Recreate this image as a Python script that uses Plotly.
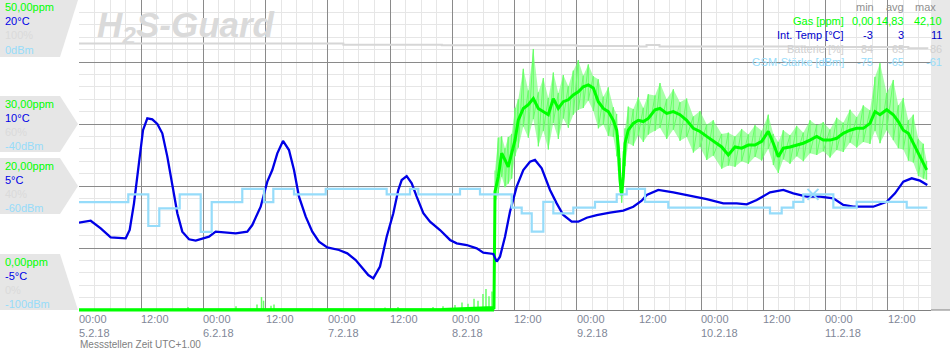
import plotly.graph_objects as go

# ---------------- data (hours since 5.2.18 00:00) ----------------
temp_h = [0, 2.26, 4.19, 6.12, 9.01, 9.78, 10.61, 11.58, 12.35, 13.18, 14.14, 15.11, 16.07, 17.04, 18.0,
          18.97, 19.93, 21.22, 22.51, 23.79, 25.08, 26.37, 28.3, 30.23, 32.47, 33.43, 35.05, 36.33, 37.29,
          38.26, 39.36, 40.51, 41.48, 42.44, 43.74, 45.01, 46.3, 47.9, 50.16, 51.76, 53.38, 54.66, 55.81,
          56.78, 58.07, 59.36, 60.64, 61.6, 62.26, 63.22, 64.19, 65.15, 66.43, 67.72, 69.65, 71.58, 72.87,
          74.8, 76.73, 78.0, 79.93, 80.59, 81.22, 82.19, 83.15, 84.44, 85.72, 87.01, 87.97, 89.27, 90.87,
          92.16, 93.43, 95.05, 96.33, 97.95, 99.88, 102.44, 105.01, 106.94, 108.56, 109.53, 111.76, 114.66,
          117.88, 121.1, 124.3, 126.89, 128.82, 130.75, 133.32, 135.88, 137.81, 140.4, 142.96, 145.53,
          147.45, 149.38, 153.24, 155.83, 157.43, 159.03, 160.65, 162.25, 163.66]
temp_c = [2.04, 2.2, 1.59, 0.86, 0.78, 1.45, 3.6, 6.83, 9.5, 10.46, 10.38, 10.0, 9.25, 7.37, 4.95,
          2.8, 1.32, 0.7, 0.59, 0.78, 0.91, 1.32, 1.24, 1.18, 1.32, 1.85, 3.33, 5.35, 6.29,
          7.63, 8.63, 7.9, 6.29, 4.14, 2.53, 1.32, 0.51, 0.05, -0.16, -0.43, -0.97, -1.64, -2.18,
          -2.45, -1.5, 0.91, 2.8, 4.68, 5.48, 5.8, 5.22, 4.14, 2.8, 2.12, 1.45, 0.65, 0.38,
          0.24, -0.03, -0.38, -0.48, -1.1, -0.7, 0.91, 2.93, 4.95, 6.29, 6.96, 7.1, 6.43, 4.68,
          3.6, 2.66, 2.12, 2.12, 2.44, 2.66, 2.85, 3.01, 3.33, 3.81, 4.27, 4.68, 4.49,
          4.22, 3.95, 3.6, 3.6, 3.52, 3.87, 4.49, 4.68, 4.41, 4.14, 4.14, 4.0,
          3.47, 3.33, 3.33, 3.73, 4.41, 5.35, 5.62, 5.43, 5.08]

gsm_h = [0, 9.51, 13.37, 15.49, 19.43, 23.48, 25.6, 31.5, 35.69, 37.49, 41.48, 47.6, 59.36, 63.86,
         65.46, 73.51, 77.36, 83.48, 85.41, 87.34, 89.58, 91.51, 95.36, 99.55, 103.74, 105.67, 109.2,
         113.69, 133.31, 135.57, 137.81, 139.74, 145.53, 150.04, 159.69, 163.66]
gsm_dbm = [-65.2, -62.7, -72.9, -67.2, -62.7, -74.8, -65.2, -60.9, -65.2, -60.9, -62.7, -60.9, -62.7, -60.9,
           -62.7, -60.9, -62.7, -67.0, -68.8, -74.7, -65.1, -68.8, -67.0, -65.1, -62.7, -60.9, -65.1,
           -67.0, -68.8, -67.0, -65.1, -62.7, -67.0, -65.1, -67.0, -67.0]
gsm_gap_h = [141.6]
gsm_gap_dbm = [-62.7]

batt_h = [0, 51.0, 70.0, 96.0, 108.0, 109.5, 112.0, 140.0, 160.0, 163.66]
batt_pct = [86.0, 85.6, 85.4, 85.2, 85.0, 85.5, 85.0, 84.8, 84.4, 84.2]

gas_h = [0.0, 70.0, 80.06,
         80.26, 80.89, 81.55, 82.19, 82.82, 83.48, 84.12, 84.75, 85.72, 86.68, 87.65, 88.61, 89.58, 90.54,
         91.51, 92.47, 93.43, 94.40, 95.36, 96.33, 97.29, 98.26, 99.22, 100.19, 101.15, 102.12, 103.08,
         103.74, 104.05, 104.37, 104.70, 105.01, 105.34, 105.97, 106.94, 107.90, 108.87, 109.83, 111.13,
         112.09, 113.38, 114.66, 115.95, 117.24, 118.52, 119.81, 121.10, 122.37, 123.99, 125.27, 126.56,
         127.85, 129.13, 130.42, 131.71, 132.98, 133.95, 134.91, 135.88, 137.17, 138.46, 139.74, 141.03,
         142.32, 143.59, 144.89, 146.18, 147.45, 148.75, 150.04, 151.31, 152.60, 153.57, 154.53, 155.83,
         157.10, 158.07, 159.03, 160.0, 160.96, 161.93, 162.89, 163.54]
gas_mean = [0.0, 0.1, 0.4,
            19.1, 21.5, 25.3, 24.2, 23.1, 25.3, 27.4, 30.6, 32.5, 33.1, 34.1, 32.5, 32.0, 31.5,
            34.1, 32.5, 33.6, 33.9, 34.7, 35.2, 36.0, 36.3, 35.8, 33.6, 32.5, 32.0, 30.6,
            29.0, 26.3, 21.0, 18.5, 21.5, 26.9, 29.0, 30.1, 30.6, 30.4, 30.9, 32.3,
            32.5, 31.7, 32.0, 31.5, 30.6, 29.3, 28.8, 28.0, 27.2, 26.3, 25.0, 26.3,
            26.1, 26.6, 26.6, 27.2, 28.8, 26.9, 24.7, 26.1, 26.3, 26.6, 26.9, 27.4,
            28.0, 27.4, 27.4, 27.7, 28.5, 29.0, 29.3, 29.3, 30.1, 32.0, 31.5, 32.3,
            31.5, 30.4, 29.0, 28.5, 26.9, 25.3, 23.9, 22.6]
gas_hi = [22.5, 27.8, 28.0, 26.1, 27.9, 28.4, 32.6, 34.0, 38.9, 35.4, 42.1, 35.1, 37.4, 34.2,
          38.3, 35.0, 37.9, 36.1, 38.6, 40.3, 37.8, 39.6, 37.7, 37.2, 34.4, 35.9, 32.7,
          31.6, 28.2, 24.5, 20.8, 25.6, 29.3, 32.8, 32.4, 34.3, 32.6, 34.8, 34.6,
          36.6, 34.0, 35.6, 33.5, 34.1, 31.2, 32.1, 29.9, 30.6, 28.4, 28.6, 28.0,
          29.2, 28.3, 29.8, 28.9, 31.5, 28.4, 27.1, 29.0, 28.2, 29.7, 28.6, 30.6,
          29.8, 30.3, 29.1, 31.0, 30.2, 32.3, 31.1, 33.0, 32.2, 37.6, 39.8, 35.0,
          37.1, 33.0, 34.2, 30.6, 31.5, 27.6, 26.8, 24.0]
gas_lo = [17.0, 18.8, 21.5, 19.8, 20.4, 21.2, 24.8, 26.2, 29.6, 27.8, 30.8, 26.4, 28.9, 25.9,
          30.2, 27.6, 30.9, 29.4, 31.5, 32.3, 32.6, 33.8, 32.1, 29.3, 29.9, 28.1, 27.9,
          24.8, 22.5, 19.0, 17.3, 19.7, 23.2, 26.9, 26.5, 28.2, 27.1, 28.3, 28.9,
          29.4, 27.6, 29.1, 27.3, 27.9, 25.4, 26.3, 24.2, 24.9, 22.8, 23.3, 23.1,
          24.0, 23.6, 24.7, 24.1, 26.0, 23.4, 22.1, 24.3, 23.6, 24.8, 24.0, 25.3,
          25.0, 25.6, 24.6, 25.8, 25.5, 27.0, 26.2, 27.1, 26.8, 28.9, 26.9, 29.0,
          27.4, 26.1, 25.9, 24.1, 23.8, 21.6, 21.2, 21.0]
spike_h = [21.03, 30.29, 34.34, 35.21, 35.6, 37.04, 37.62, 59.04, 61.54, 68.3, 70.23, 72.54, 73.89,
           75.05, 76.21, 76.98, 77.94, 78.52, 79.1, 79.68, 80.06]
spike_ppm = [0.5, 0.6, 0.9, 2.1, 1.5, 0.7, 0.9, 0.4, 0.5, 0.5, 0.6, 0.8, 1.2,
             1.0, 1.8, 1.5, 2.6, 3.4, 2.2, 3.0, 3.8]

tick_hours = [0, 12, 24, 36, 48, 60, 72, 84, 96, 108, 120, 132, 144, 156]
tick_times = ["00:00", "12:00"] * 7
tick_dates = ["5.2.18", "", "6.2.18", "", "7.2.18", "", "8.2.18", "", "9.2.18", "", "10.2.18", "",
              "11.2.18", ""]

scale_gas = ["50,00ppm", "30,00ppm", "20,00ppm", "0,00ppm"]
scale_temp = ["20°C", "10°C", "5°C", "-5°C"]
scale_batt = ["100%", "60%", "40%", "0%"]
scale_gsm = ["0dBm", "-40dBm", "-60dBm", "-100dBm"]

legend_names = ["Gas [ppm]", "Int. Temp [°C]", "Batterie [%]", "GSM-Stärke [dBm]"]
legend_min = ["0,00", "-3", "84", "-75"]
legend_avg = ["14,83", "3", "65", "-65"]
legend_max = ["42,10", "11", "86", "-61"]

# ---------------- style ----------------
C_GAS = "#00ff00"
C_GAS_RAW = "#66ff66"
C_TEMP = "#0000e6"
C_BATT = "#d6d6d6"
C_GSM = "#96dcfa"
FONT = "Liberation Sans, Arial, sans-serif"

W, H = 950, 350
L, R, T, B = 79, 19, 0, 40
PW, PH = W - L - R, H - T - B
XMAX = PW / 5.1833


def px(xp):
    return (xp - L) / PW


def py(yp):
    return (PH + T - yp) / PH


fig = go.Figure()

# battery
fig.add_trace(go.Scatter(x=batt_h, y=batt_pct, yaxis="y3", mode="lines", line=dict(color=C_BATT, width=2, shape="hv"),
                         hoverinfo="skip"))
# GSM
fig.add_trace(go.Scatter(x=gsm_h, y=gsm_dbm, yaxis="y4", mode="lines", line=dict(color=C_GSM, width=2.2, shape="hv"),
                         hoverinfo="skip"))
fig.add_trace(go.Scatter(x=gsm_gap_h, y=gsm_gap_dbm, yaxis="y4", mode="markers",
                         marker=dict(symbol="x-thin", size=11, line=dict(color=C_GSM, width=2)), hoverinfo="skip"))

# gas raw band
band_h = gas_h[3:]
fig.add_trace(go.Scatter(x=band_h, y=gas_lo, mode="lines", line=dict(width=0, color=C_GAS_RAW), hoverinfo="skip"))
fig.add_trace(go.Scatter(x=band_h, y=gas_hi, mode="lines", line=dict(width=0, color=C_GAS_RAW), fill="tonexty",
                         fillcolor="rgba(110,255,110,0.6)", hoverinfo="skip"))
saw_x, saw_y = [], []
for t, hi, lo in zip(band_h, gas_hi, gas_lo):
    saw_x += [t, t]
    saw_y += [hi, lo]
fig.add_trace(go.Scatter(x=saw_x, y=saw_y, mode="lines", line=dict(width=1, color=C_GAS_RAW), hoverinfo="skip"))
sp_x, sp_y = [], []
for t, v in zip(spike_h, spike_ppm):
    sp_x += [t, t, None]
    sp_y += [0, v, None]
fig.add_trace(go.Scatter(x=sp_x, y=sp_y, mode="lines", line=dict(width=1.5, color=C_GAS_RAW), hoverinfo="skip"))
# gas mean
fig.add_trace(go.Scatter(x=gas_h, y=gas_mean, mode="lines", line=dict(width=3, color=C_GAS), hoverinfo="skip"))
# temperature
fig.add_trace(go.Scatter(x=temp_h, y=temp_c, yaxis="y2", mode="lines", line=dict(width=2.3, color=C_TEMP),
                         hoverinfo="skip"))

shapes = []
# right gray strip
shapes.append(dict(type="rect", xref="paper", yref="paper", x0=1, x1=px(W), y0=0, y1=1,
                   fillcolor="#e8e8e8", line=dict(width=0), layer="below"))
# axis line extension
shapes.append(dict(type="line", xref="paper", yref="paper", x0=1, x1=px(W), y0=0, y1=0,
                   line=dict(color="#808080", width=1)))
# gas zero-level stroke (unclipped lower half) before the rise
shapes.append(dict(type="line", xref="x", yref="paper", x0=gas_h[0], x1=gas_h[2], y0=0, y1=0,
                   line=dict(color=C_GAS, width=3), layer="above"))

# left scale panels (pixel outlines)
panels = [
    [(0, 0), (78, 0), (60, 57), (0, 57)],
    [(0, 96), (60, 96), (78, 124), (60, 152), (0, 152)],
    [(0, 158), (60, 158), (78, 186), (60, 214), (0, 214)],
    [(0, 254), (60, 254), (78, 310), (0, 310)],
]
for pts in panels:
    path = "M " + " L ".join(f"{px(a):.5f},{py(b):.5f}" for a, b in pts) + " Z"
    shapes.append(dict(type="path", xref="paper", yref="paper", path=path, fillcolor="#e6e6e6",
                       line=dict(width=0), layer="below"))

annotations = []
panel_tops = [0, 96, 158, 254]
for i, top in enumerate(panel_tops):
    for j, (txt, col) in enumerate([(scale_gas[i], C_GAS), (scale_temp[i], C_TEMP),
                                    (scale_batt[i], "#dadada"), (scale_gsm[i], C_GSM)]):
        annotations.append(dict(xref="paper", yref="paper", x=px(3), y=py(top + 7.5 + 14 * j), xanchor="left",
                                yanchor="middle", text=txt, showarrow=False,
                                font=dict(family=FONT, size=11, color=col)))

# time tick labels
for hh, tt, dd in zip(tick_hours, tick_times, tick_dates):
    txt = tt + ("<br>" + dd if dd else "")
    annotations.append(dict(xref="x", yref="paper", x=hh, y=0, xanchor="left", yanchor="top", align="left",
                            text=txt, showarrow=False, yshift=-1, xshift=-2,
                            font=dict(family=FONT, size=11, color="#7f8798")))
annotations.append(dict(xref="paper", yref="paper", x=0, y=py(344.5), xanchor="left", yanchor="middle",
                        text="Messstellen Zeit UTC+1.00", showarrow=False, xshift=-1,
                        font=dict(family=FONT, size=10, color="#808080")))

# watermark
annotations.append(dict(xref="paper", yref="paper", x=px(95), y=py(27), xanchor="left", yanchor="middle",
                        text="<b><i>H<sub>2</sub>S-Guard</i></b>", showarrow=False,
                        font=dict(family=FONT, size=35, color="#dadada")))

# stats table
hdr_y = 7
for xr, t in [(876, "min"), (906, "avg"), (938, "max")]:
    annotations.append(dict(xref="paper", yref="paper", x=px(xr), y=py(hdr_y), xanchor="right", yanchor="middle",
                            text=t, showarrow=False, font=dict(family=FONT, size=11, color="#909090")))
row_cols = [C_GAS, "#0000cc", "#d0d0d0", C_GSM]
for k in range(4):
    yy = py(21.5 + 13.6 * k)
    for xr, t in [(846, legend_names[k]), (875, legend_min[k]), (906, legend_avg[k]), (944, legend_max[k])]:
        annotations.append(dict(xref="paper", yref="paper", x=px(xr), y=yy, xanchor="right", yanchor="middle",
                                text=t, showarrow=False, font=dict(family=FONT, size=11, color=row_cols[k])))

fig.update_layout(
    width=W, height=H, margin=dict(l=L, r=R, t=T, b=B, pad=0),
    paper_bgcolor="white", plot_bgcolor="white", showlegend=False,
    shapes=shapes, annotations=annotations,
    xaxis=dict(range=[0, XMAX], tick0=0, dtick=12, showgrid=True, gridcolor="#8a8a8a", gridwidth=1,
               showticklabels=False, ticks="", zeroline=False, showline=True, linecolor="#808080",
               layer="below traces",
               minor=dict(dtick=3, tick0=0, showgrid=True, gridcolor="#e6e6e6", gridwidth=1)),
    yaxis=dict(range=[0, 50], tick0=0, dtick=10, showgrid=True, gridcolor="#8a8a8a", gridwidth=1,
               showticklabels=False, ticks="", zeroline=False, showline=False, layer="below traces",
               minor=dict(dtick=2, tick0=0, showgrid=True, gridcolor="#e6e6e6", gridwidth=1)),
    yaxis2=dict(range=[-5, 20], overlaying="y", visible=False),
    yaxis3=dict(range=[0, 100], overlaying="y", visible=False),
    yaxis4=dict(range=[-100, 0], overlaying="y", visible=False),
)

fig.write_html("out.html")
